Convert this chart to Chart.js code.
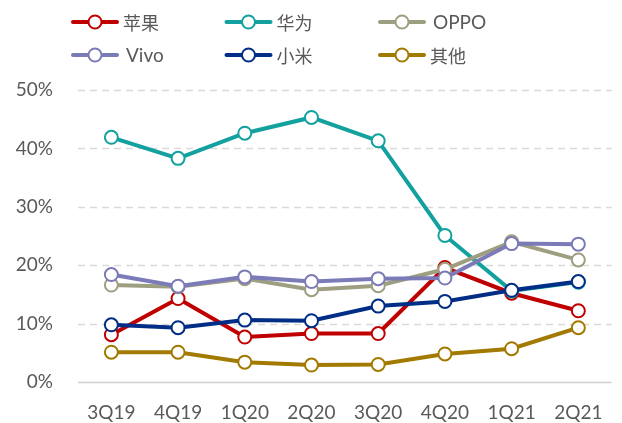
<!DOCTYPE html>
<html>
<head>
<meta charset="utf-8">
<script src="https://cdn.jsdelivr.net/npm/chart.js@4.4.1/dist/chart.umd.min.js"></script>
<style>
  html, body { margin: 0; padding: 0; background: #fff; }
  #wrap { position: relative; width: 622px; height: 423px; }
</style>
</head>
<body>
<div id="wrap"><canvas id="shareChart" width="622" height="423"></canvas></div>
<script>
// 季度
const quarters = ['3Q19', '4Q19', '1Q20', '2Q20', '3Q20', '4Q20', '1Q21', '2Q21'];

// 各品牌份额 (%)
const brandNames = ['苹果', '华为', 'OPPO', 'Vivo', '小米', '其他'];
const apple  = [8.1, 14.3, 7.7, 8.3, 8.3, 19.6, 15.2, 12.2];
const huawei = [41.9, 38.3, 42.6, 45.3, 41.3, 25.1, 15.6, 17.1];
const oppo   = [16.6, 16.3, 17.7, 15.8, 16.5, 19.3, 24.0, 20.9];
const vivo   = [18.4, 16.4, 18.0, 17.2, 17.7, 17.8, 23.7, 23.6];
const xiaomi = [9.8, 9.3, 10.6, 10.5, 13.0, 13.8, 15.7, 17.2];
const others = [5.1, 5.1, 3.4, 2.9, 3.0, 4.8, 5.7, 9.3];
const yTicks = [0, 10, 20, 30, 40, 50];

const brandColors = ['#C00000', '#12A19F', '#9E9E80', '#7B7BB8', '#002D86', '#A37A00'];
const seriesData = [apple, huawei, oppo, vivo, xiaomi, others];

const latinFont = 'Lato, "Noto Sans", sans-serif';
const cjkFont = '"Noto Sans CJK SC", sans-serif';
const textColor = '#595959';

// 图例：三列两行，画在画布上
const gridLegend = {
  id: 'gridLegend',
  afterDraw(chart) {
    const ctx = chart.ctx;
    ctx.save();
    chart.data.datasets.forEach((ds, i) => {
      const col = i % 3;
      const row = Math.floor(i / 3);
      const x0 = 73 + col * 153.5;
      const y = 22 + row * 33;
      ctx.strokeStyle = ds.borderColor;
      ctx.lineWidth = 4;
      ctx.lineCap = 'round';
      ctx.beginPath();
      ctx.moveTo(x0, y);
      ctx.lineTo(x0 + 44, y);
      ctx.stroke();
      ctx.beginPath();
      ctx.arc(x0 + 22, y, 6.5, 0, Math.PI * 2);
      ctx.fillStyle = '#fff';
      ctx.fill();
      ctx.lineWidth = 2;
      ctx.stroke();
      const isLatin = /^[A-Za-z]+$/.test(ds.label);
      ctx.font = isLatin ? '19px ' + latinFont : '18px ' + cjkFont;
      ctx.fillStyle = textColor;
      ctx.textAlign = 'left';
      ctx.textBaseline = 'middle';
      ctx.fillText(ds.label, x0 + (isLatin ? 53 : 50), y + 1);
    });
    ctx.restore();
  }
};

const ctx = document.getElementById('shareChart').getContext('2d');
const chart = new Chart(ctx, {
  type: 'line',
  data: {
    labels: quarters,
    datasets: brandNames.map((name, i) => ({
      label: name,
      data: seriesData[i],
      borderColor: brandColors[i],
      backgroundColor: '#fff',
      borderWidth: 4,
      pointRadius: 6.5,
      pointHoverRadius: 6.5,
      pointBorderWidth: 2,
      pointBackgroundColor: '#fff',
      pointBorderColor: brandColors[i],
      tension: 0,
      fill: false,
      order: brandNames.length - i  // 后面的系列画在上面
    }))
  },
  options: {
    responsive: false,
    animation: false,
    devicePixelRatio: 1,
    layout: { padding: { top: 90, right: 2, left: 0, bottom: 0 } },
    plugins: {
      legend: { display: false },
      tooltip: { enabled: false }
    },
    scales: {
      x: {
        offset: true,
        grid: { display: false, drawTicks: false },
        border: { display: false },
        ticks: {
          color: textColor,
          font: { family: latinFont, size: 19 },
          padding: 19,
          maxRotation: 0
        },
        afterFit: scale => { scale.height = 41; }
      },
      y: {
        min: 0,
        max: 50,
        afterBuildTicks: scale => { scale.ticks = yTicks.map(v => ({ value: v })); },
        border: { display: false },
        grid: {
          drawTicks: false,
          color: ctx => ctx.tick.value === 0 ? '#d0d0d0' : '#d9d9d9',
          lineWidth: 1.5
        },
        ticks: {
          color: textColor,
          font: { family: latinFont, size: 19 },
          padding: 25,
          callback: v => v + '%'
        },
        afterFit: scale => { scale.width = 78; }
      }
    }
  },
  plugins: [gridLegend, {
    id: 'dashGrid',
    // 虚线网格，零线实线
    beforeDraw(chart) {
      const y = chart.scales.y;
      const area = chart.chartArea;
      const c = chart.ctx;
      c.save();
      yTicks.forEach(v => {
        const py = Math.round(y.getPixelForValue(v)) + 0.5;
        c.beginPath();
        c.setLineDash(v === 0 ? [] : [7, 5]);
        c.strokeStyle = v === 0 ? '#d0d0d0' : '#d9d9d9';
        c.lineWidth = v === 0 ? 1.5 : 1.5;
        c.moveTo(area.left, py);
        c.lineTo(area.right, py);
        c.stroke();
      });
      c.restore();
    }
  }]
});
chart.options.scales.y.grid.display = false;
chart.update();
</script>
</body>
</html>
